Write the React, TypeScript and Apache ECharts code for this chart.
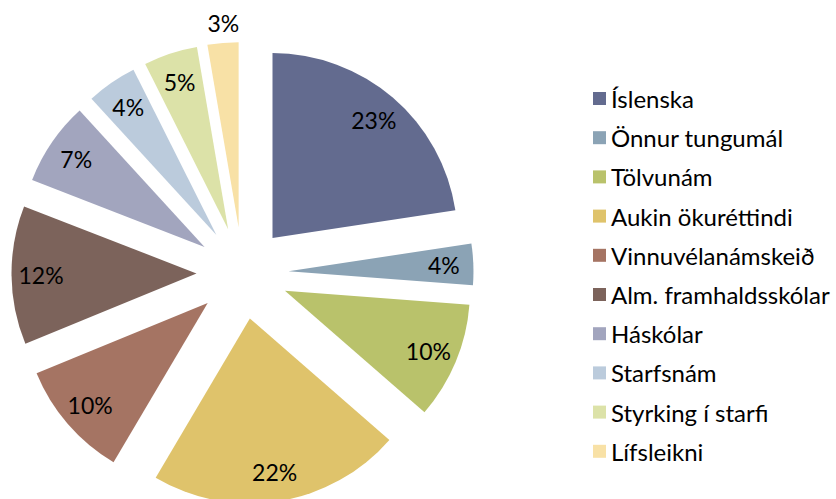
import React, { useEffect, useRef } from "react";
import * as echarts from "echarts";

const categories = [
  "Íslenska",
  "Önnur tungumál",
  "Tölvunám",
  "Aukin ökuréttindi",
  "Vinnuvélanámskeið",
  "Alm. framhaldsskólar",
  "Háskólar",
  "Starfsnám",
  "Styrking í starfi",
  "Lífsleikni",
];
// shares (labels round to 23,4,10,22,10,12,7,4,5,3 %)
const values = [22.6, 3.6, 10.2, 22.1, 10.3, 12.1, 7.3, 4.4, 4.7, 2.7];
const colors = [
  "#636B8F",
  "#8BA3B5",
  "#B9C26B",
  "#DFC36B",
  "#A57463",
  "#7C635B",
  "#A2A5BE",
  "#BBCBDC",
  "#DCE2A8",
  "#F8E1A6",
];
const outsideLabels = ["Lífsleikni"];

const FONT = "Lato, 'Noto Sans', sans-serif";

export default function App() {
  const ref = useRef<HTMLDivElement>(null);
  useEffect(() => {
    if (!ref.current) return;
    const chart = echarts.init(ref.current, undefined, { renderer: "svg" });
    const center = [242.5, 273];
    const R = 185;
    const offset = 46;
    const colorData = categories.map((name, i) => ({
      name,
      value: values[i],
      selected: true,
      itemStyle: { color: colors[i] },
    }));
    const labelData = categories.map((name, i) => {
      const outside = outsideLabels.includes(name);
      return {
        name,
        value: values[i],
        selected: true,
        label: outside
          ? { position: "outside", distanceToLabelLine: -18 }
          : { position: "inside" },
        labelLine: { show: false, length: 20, length2: 0 },
      };
    });
    chart.setOption({
      animation: false,
      legend: {
        orient: "vertical",
        left: 588,
        top: 81.5,
        icon: "rect",
        itemWidth: 13,
        itemHeight: 13,
        itemGap: 15.2,
        selectedMode: false,
        data: categories,
        textStyle: {
          fontFamily: FONT,
          fontSize: 24,
          color: "#000",
          lineHeight: 24,
        },
      },
      series: [
        {
          type: "pie",
          center,
          radius: [0, R],
          startAngle: 90,
          clockwise: true,
          selectedMode: "multiple",
          selectedOffset: offset,
          avoidLabelOverlap: false,
          silent: true,
          label: { show: false },
          labelLine: { show: false },
          emphasis: { disabled: true },
          data: colorData,
        },
        {
          type: "pie",
          center,
          radius: [120, R],
          startAngle: 90,
          clockwise: true,
          selectedMode: "multiple",
          selectedOffset: offset,
          avoidLabelOverlap: false,
          percentPrecision: 0,
          silent: true,
          itemStyle: { color: "rgba(0,0,0,0)" },
          emphasis: { disabled: true },
          label: {
            show: true,
            formatter: "{d}%",
            fontFamily: FONT,
            fontSize: 23,
            color: "#000",
          },
          labelLine: { show: false },
          data: labelData,
        },
      ],
    });
    return () => chart.dispose();
  }, []);
  return (
    <div
      ref={ref}
      style={{ position: "fixed", left: 0, top: 0, width: 836, height: 499, background: "#fff" }}
    />
  );
}
